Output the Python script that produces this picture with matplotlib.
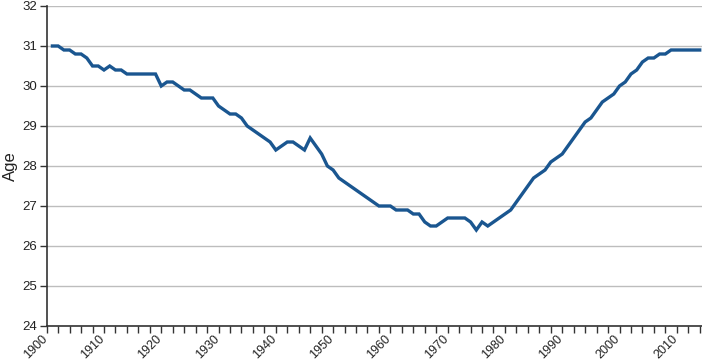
import matplotlib
matplotlib.use("Agg")
import matplotlib.pyplot as plt
import matplotlib.transforms as mtransforms
from matplotlib.ticker import MultipleLocator

years = list(range(1901, 2015))
age = [31.0, 31.0, 30.9, 30.9, 30.8, 30.8, 30.7, 30.5, 30.5, 30.4,   # 1901-1910
       30.5, 30.4, 30.4, 30.3, 30.3, 30.3, 30.3, 30.3, 30.3, 30.0,   # 1911-1920
       30.1, 30.1, 30.0, 29.9, 29.9, 29.8, 29.7, 29.7, 29.7, 29.5,   # 1921-1930
       29.4, 29.3, 29.3, 29.2, 29.0, 28.9, 28.8, 28.7, 28.6, 28.4,   # 1931-1940
       28.5, 28.6, 28.6, 28.5, 28.4, 28.7, 28.5, 28.3, 28.0, 27.9,   # 1941-1950
       27.7, 27.6, 27.5, 27.4, 27.3, 27.2, 27.1, 27.0, 27.0, 27.0,   # 1951-1960
       26.9, 26.9, 26.9, 26.8, 26.8, 26.6, 26.5, 26.5, 26.6, 26.7,   # 1961-1970
       26.7, 26.7, 26.7, 26.6, 26.4, 26.6, 26.5, 26.6, 26.7, 26.8,   # 1971-1980
       26.9, 27.1, 27.3, 27.5, 27.7, 27.8, 27.9, 28.1, 28.2, 28.3,   # 1981-1990
       28.5, 28.7, 28.9, 29.1, 29.2, 29.4, 29.6, 29.7, 29.8, 30.0,   # 1991-2000
       30.1, 30.3, 30.4, 30.6, 30.7, 30.7, 30.8, 30.8, 30.9, 30.9,   # 2001-2010
       30.9, 30.9, 30.9, 30.9]                                        # 2011-2014
decades = list(range(1900, 2011, 10))
decade_labels = [str(d) for d in decades]

plt.rcParams['font.family'] = ['Liberation Sans', 'DejaVu Sans']

fig = plt.figure(figsize=(7.02, 3.62), dpi=100)
ax = fig.add_axes([46.7 / 702, 36 / 362, 1 - 46.7 / 702, 320 / 362])

ax.plot(years, age, color='#1a5690', linewidth=2.4, solid_joinstyle='miter', zorder=3)

ax.set_xlim(1900, 2014.4)
ax.set_ylim(24, 32)
ax.set_xticks(decades)
ax.set_xticklabels([])
ax.xaxis.set_minor_locator(MultipleLocator(2))
ax.yaxis.set_major_locator(MultipleLocator(1))

# rotated decade labels, upper right corner just under each tick
trans = mtransforms.blended_transform_factory(ax.transData, ax.transAxes)
trans = trans + mtransforms.ScaledTranslation(3 / 100, -7 / 100, fig.dpi_scale_trans)
for d, lab in zip(decades, decade_labels):
    ax.text(d, 0, lab, transform=trans, rotation=45, ha='right', va='top',
            fontsize=9, color='#222222', clip_on=False)

ax.grid(axis='y', color='#bdbdbd', linewidth=1.0, zorder=0)
for s in ['top', 'right']:
    ax.spines[s].set_visible(False)
for s in ['left', 'bottom']:
    ax.spines[s].set_color('#333333')
    ax.spines[s].set_linewidth(1.2)

ax.tick_params(axis='both', which='both', direction='out', color='#333333',
               labelcolor='#222222', labelsize=9.5)
ax.tick_params(axis='x', which='both', length=5, width=1)
ax.tick_params(axis='y', which='major', length=5, width=1, pad=2)

ax.set_ylabel('Age', fontsize=12, color='#222222', labelpad=3)

fig.savefig('out.png', dpi=100)
